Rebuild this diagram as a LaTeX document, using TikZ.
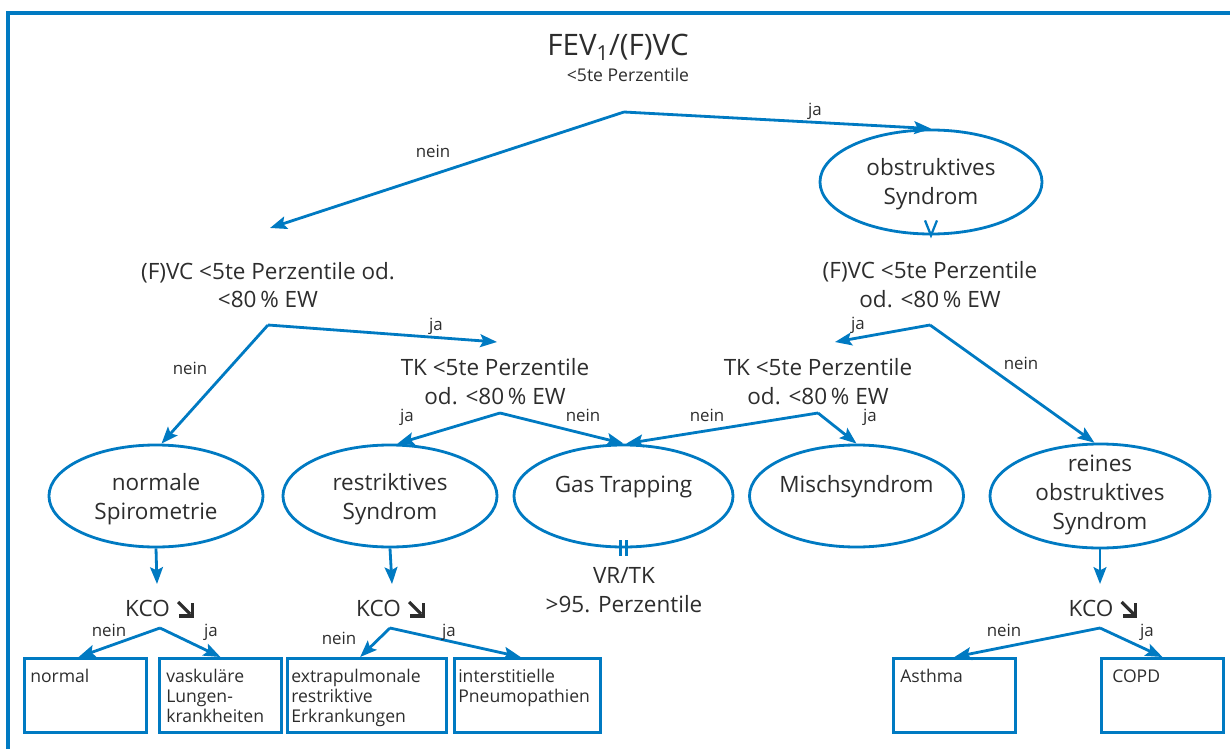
\documentclass[tikz,border=0pt]{standalone}
\usepackage{fontspec}
\setmainfont{Open Sans}
\usetikzlibrary{shapes.geometric,arrows.meta,calc}
\definecolor{lufublue}{RGB}{0,122,194}
\definecolor{lufugray}{RGB}{45,45,45}
\tikzset{
  kcoarr/.pic={
    \draw[lufugray,line width=2.2pt] (0,0) -- (12,12);
    \draw[lufugray,line width=2.2pt,line join=miter] (14,1) -- (14,14) -- (1,14);
  }
}
\begin{document}
\begin{tikzpicture}[x=0.025cm,y=-0.025cm,
  arr/.style={-{Stealth[length=4.2mm,width=3.2mm,inset=0.8mm]},draw=lufublue,line width=2pt},
  ell/.style={ellipse,draw=lufublue,line width=2pt,minimum width=5.35cm,minimum height=2.55cm,inner sep=0pt},
  elltxt/.style={align=center,text=lufugray,font=\fontsize{16}{20.5}\selectfont},
  head/.style={align=center,text=lufugray,font=\fontsize{16}{20.5}\selectfont},
  lbl/.style={text=lufugray,font=\fontsize{12}{14}\selectfont,text height=1.6ex,text depth=0.4ex,inner sep=0pt},
  kco/.style={text=lufugray,font=\fontsize{16}{20}\selectfont,anchor=base,inner sep=0pt},
  box/.style={draw=lufublue,line width=2pt,rectangle,anchor=north west,inner sep=0pt,minimum height=1.85cm},
  boxtxt/.style={anchor=north west,align=left,inner sep=0pt,text=lufugray,font=\fontsize{12.5}{14}\selectfont}]
\useasboundingbox (0,0) rectangle (1230,749);
%\draw[step=50,gray,very thin] (0,0) grid (1230,749);
\draw[lufublue,line width=2.2pt] (8,749) -- (8,13) -- (1230,13);
% top
\node[text=lufugray,font=\fontsize{21}{24}\selectfont] (fev) at (618,47) {FEV\textsubscript{1}/(F)VC};
\node[text=lufugray,font=\fontsize{12.5}{15}\selectfont] (fevsub) at (628,75) {<5te Perzentile};
\coordinate (f0) at (624,112);
\coordinate (vclin) at (270,228);
\node[ell,minimum width=5.55cm,minimum height=2.6cm] (obs) at (931,182) {};
\node[elltxt] (obstxt) at (931,184) {obstruktives\\Syndrom};
\draw[arr] (f0) -- (vclin);
\draw[arr] (f0) -- (obs.north);
\node[lbl] (l1) at (433,153) {nein};
\node[lbl] (l2) at (815,111) {ja};
\draw[lufublue,line width=1.6pt] ([shift={(-6,-15)}]obs.south) -- (obs.south) -- ([shift={(6,-15)}]obs.south);
% second level
\node[head] (vcl) at (268,285) {(F)VC <5te Perzentile od.\\<80\,\% EW};
\node[head] (vcr) at (930,285) {(F)VC <5te Perzentile\\od. <80\,\% EW};
\coordinate (f1) at (268,325);
\coordinate (f3) at (930,325);
\node[head] (tkl) at (495,382) {TK <5te Perzentile\\od. <80\,\% EW};
\node[head] (tkr) at (818,382) {TK <5te Perzentile\\od. <80\,\% EW};
\coordinate (tklin) at (497,342);
\coordinate (tkrin) at (835,342);
\coordinate (f2) at (500,413);
\coordinate (f4) at (818,413);
% ellipses
\node[ell] (norm) at (156,496) {};
\node[ell] (restr) at (390,496) {};
\node[ell,minimum width=5.475cm] (gas) at (623.5,496) {};
\node[ell] (misch) at (856.5,496) {};
\node[ell,minimum width=5.5cm,minimum height=2.6cm] (reinob) at (1100,496) {};
\node[elltxt] (normtxt) at (156,499) {normale\\Spirometrie};
\node[elltxt] (restrtxt) at (390,499) {restriktives\\Syndrom};
\node[elltxt] (gastxt) at (623.5,487) {Gas Trapping};
\node[elltxt] (mischtxt) at (856.5,487) {Mischsyndrom};
\node[elltxt] (reinobtxt) at (1100,495) {reines\\obstruktives\\Syndrom};
\draw[arr] (f1) -- (norm.84);
\draw[arr] (f1) -- (tklin);
\draw[arr] (f2) -- (restr.82);
\draw[arr] (f2) -- (gas.north);
\draw[arr] (f3) -- (tkrin);
\draw[arr] (f3) -- (reinob.96);
\draw[arr] (f4) -- (gas.87);
\draw[arr] (f4) -- (misch.north);
\node[lbl] (l3) at (190,370) {nein};
\node[lbl] (l4) at (436,326) {ja};
\node[lbl] (l5) at (407,417) {ja};
\node[lbl] (l6) at (583,417) {nein};
\node[lbl] (l7) at (858,325) {ja};
\node[lbl] (l8) at (1021,365) {nein};
\node[lbl] (l9) at (707,417) {nein};
\node[lbl] (l10) at (870,417) {ja};
% gas trapping
\draw[lufublue,line width=1.6pt] ([shift={(-3,-8)}]gas.south) -- ([shift={(-3,8)}]gas.south);
\draw[lufublue,line width=1.6pt] ([shift={(3,-8)}]gas.south) -- ([shift={(3,8)}]gas.south);
\node[head] (vrtk) at (624,590) {VR/TK\\>95. Perzentile};
% KCO
\coordinate (kcolin) at (157,584);
\coordinate (kcomin) at (392,584);
\coordinate (kcorin) at (1100,584);
\draw[arr] (norm.south) -- (kcolin);
\draw[arr] (restr.south) -- (kcomin);
\draw[arr] (reinob.south) -- (kcorin);
\node[kco] (kcol) at (147.5,616) {KCO};
\node[kco] (kcom) at (378.5,616) {KCO};
\node[kco] (kcor) at (1091,616) {KCO};
\pic at ([shift={(8,-14)}]kcol.base east) {kcoarr};
\pic at ([shift={(8,-14)}]kcom.base east) {kcoarr};
\pic at ([shift={(8,-14)}]kcor.base east) {kcoarr};
\coordinate (k1) at (160,628);
\coordinate (k2) at (390,628);
\coordinate (k3) at (1100,628);
% boxes
\node[box,minimum width=3.05cm] (bnormal) at (23,657) {};
\node[box,minimum width=3.05cm] (bvask) at (158,657) {};
\node[box,minimum width=3.975cm] (bextra) at (286,657) {};
\node[box,minimum width=3.65cm] (binter) at (453,657) {};
\node[box,minimum width=3.05cm] (basthma) at (892,657) {};
\node[box,minimum width=3.05cm] (bcopd) at (1100,657) {};
\node[boxtxt] (tnormal) at ([shift={(7,12)}]bnormal.north west) {normal};
\node[boxtxt] (tvask) at ([shift={(8,12)}]bvask.north west) {vaskuläre\\Lungen-\\krankheiten};
\node[boxtxt] (textra) at ([shift={(5,12)}]bextra.north west) {extrapulmonale\\restriktive\\Erkrankungen};
\node[boxtxt] (tinter) at ([shift={(5,12)}]binter.north west) {interstitielle\\Pneumopathien};
\node[boxtxt] (tasthma) at ([shift={(8,12)}]basthma.north west) {Asthma};
\node[boxtxt] (tcopd) at ([shift={(12,12)}]bcopd.north west) {COPD};
\draw[arr] (k1) -- (bnormal.100);
\draw[arr] (k1) -- (bvask.north);
\draw[arr] (k2) -- (bextra.100);
\draw[arr] (k2) -- (binter.100);
\draw[arr] (k3) -- (basthma.north);
\draw[arr] (k3) -- (bcopd.north);
\node[lbl] (l11) at (109,632) {nein};
\node[lbl] (l12) at (211,632) {ja};
\node[lbl] (l13) at (339,640) {nein};
\node[lbl] (l14) at (449,632) {ja};
\node[lbl] (l15) at (1004,632) {nein};
\node[lbl] (l16) at (1147,632) {ja};
\end{tikzpicture}
\end{document}
